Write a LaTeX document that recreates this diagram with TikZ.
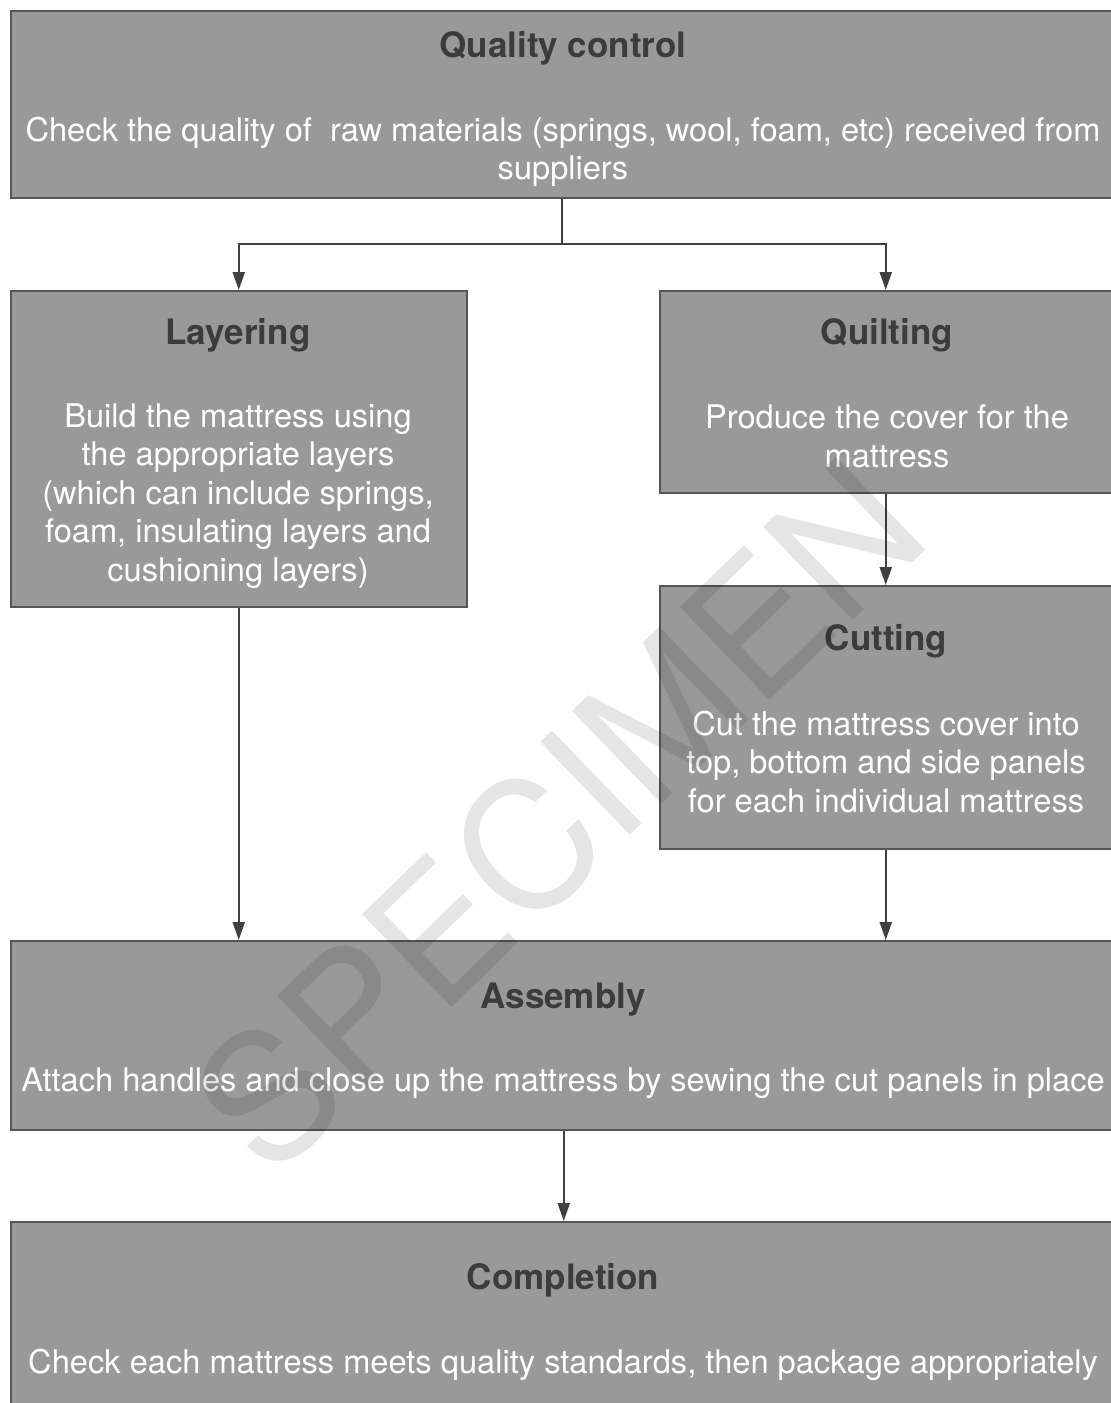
\documentclass[tikz,border=0pt]{standalone}
\usepackage{fontspec}
\setmainfont{TeX Gyre Heros}
\usetikzlibrary{arrows.meta}
\definecolor{boxfill}{HTML}{999999}
\definecolor{boxline}{HTML}{555555}
\definecolor{linkgray}{HTML}{404040}
\definecolor{headgray}{HTML}{3C3C3C}
\begin{document}
\begin{tikzpicture}[x=1pt,y=-1pt,
    stage/.style={draw=boxline, fill=boxfill, line width=1.5pt, anchor=north west, inner sep=0pt},
    head/.style={text=headgray, font=\bfseries\fontsize{35}{42}\selectfont, anchor=base, inner sep=0pt},
    body/.style={text=white, font=\fontsize{32.6}{38.5}\selectfont, align=center, anchor=north, inner sep=0pt},
    link/.style={draw=linkgray, line width=2.2pt}]
  \clip (0,0) rectangle (1111,1403);
  % boxes
  \node[stage, minimum width=1106pt, minimum height=187pt] (qc) at (10,10) {};
  \node[stage, minimum width=456pt, minimum height=316pt] (layer) at (10,290) {};
  \node[stage, minimum width=456pt, minimum height=202pt] (quilt) at (659,290) {};
  \node[stage, minimum width=456pt, minimum height=263pt] (cut) at (659,585) {};
  \node[stage, minimum width=1106pt, minimum height=189pt] (assembly) at (10,940) {};
  \node[stage, minimum width=1106pt, minimum height=200pt] (finish) at (10,1221) {};
  % titles
  \node[head] (qc-head) at (563,57.5) {Quality control};
  \node[head] (layer-head) at (238,344.5) {Layering};
  \node[head] (quilt-head) at (887,344.5) {Quilting};
  \node[head] (cut-head) at (886,650.5) {Cutting};
  \node[head] (assembly-head) at (563,1008.5) {Assembly};
  \node[head] (finish-head) at (563,1289.5) {Completion};
  % descriptions
  \node[body] (qc-text) at (563,116.5) {Check the quality of\ \ raw materials (springs, wool, foam, etc) received from\\suppliers};
  \node[body] (layer-text) at (238,403.5) {Build the mattress using\\the appropriate layers\\(which can include springs,\\foam, insulating layers and\\cushioning layers)};
  \node[body] (quilt-text) at (887,404.5) {Produce the cover for the\\mattress};
  \node[body] (cut-text) at (886,710.5) {Cut the mattress cover into\\top, bottom and side panels\\for each individual mattress};
  \node[body] (assembly-text) at (563,1067.5) {Attach handles and close up the mattress by sewing the cut panels in place};
  \node[body] (finish-text) at (563,1348.5) {Check each mattress meets quality standards, then package appropriately};
  % connectors
  \coordinate (fork) at (562,244);
  \begin{scope}[link, -{Triangle[width=12pt,length=18pt]}]
    \draw[-] (qc.south -| fork) -- (fork);
    \draw (fork) -| (layer.north);
    \draw (fork) -| ([xshift=-2pt]quilt.north);
    \draw ([xshift=-2pt]quilt.south) -- ([xshift=-2pt]cut.north);
    \draw (layer.south) -- (layer.south |- assembly.north);
    \draw ([xshift=-2pt]cut.south) -- ([xshift=-2pt]cut.south |- assembly.north);
    \draw (assembly.south) -- (finish.north);
  \end{scope}
  % watermark
  \node[rotate=44, text=black, opacity=0.1, inner sep=0pt, font=\fontsize{177}{200}\selectfont] (specimen) at (558,815) {SPECIMEN};
\end{tikzpicture}
\end{document}
